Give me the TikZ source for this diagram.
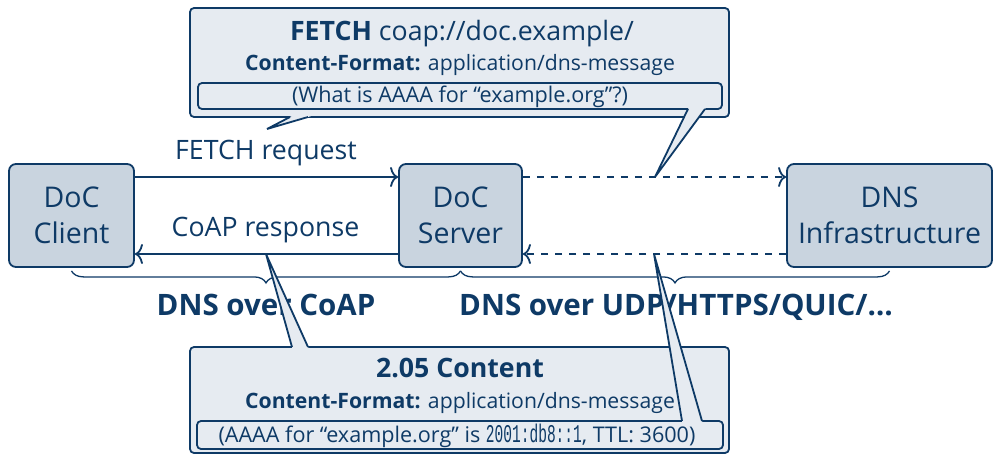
\documentclass[tikz,border=0pt]{standalone}
\usepackage{fontspec}
\setmainfont{Open Sans}
\newfontfamily\addrmono[FakeStretch=0.57]{Liberation Mono}
\usetikzlibrary{arrows.meta,decorations.pathreplacing,calc}
\definecolor{navy}{HTML}{0E3A66}
\definecolor{boxfill}{HTML}{C9D4DF}
\definecolor{notefill}{HTML}{E6EBF1}
\tikzset{
  entity/.style={draw=navy, fill=boxfill, line width=1.8pt, rounded corners=7pt,
    text=navy, align=center, inner sep=0pt, font=\fontsize{28.5}{36}\selectfont},
  flow/.style={draw=navy, line width=1.8pt,
    -{Computer Modern Rightarrow[length=8pt,width=20pt]}},
  dnsflow/.style={flow, dash pattern=on 7pt off 7pt},
  flowlabel/.style={text=navy, inner sep=0pt, anchor=base, font=\fontsize{26.7}{30}\selectfont},
  span/.style={draw=navy, line width=1.3pt, decorate,
    decoration={brace, mirror, amplitude=12pt}},
  spanlabel/.style={text=navy, inner sep=0pt, anchor=base,
    font=\fontsize{29.5}{34}\selectfont\bfseries},
  note/.style={draw=navy, fill=notefill, line width=1.8pt, rounded corners=4pt,
    inner sep=0pt},
  notetitle/.style={text=navy, inner sep=0pt, anchor=base, font=\fontsize{26.7}{30}\selectfont},
  notetext/.style={text=navy, inner sep=0pt, anchor=base, font=\fontsize{21.6}{26}\selectfont},
  formatline/.style={notetext, font=\fontsize{21.2}{26}\selectfont},
  tailedge/.style={draw=navy, line width=1.8pt, line join=miter},
}
% a speech-bubble pointer: filled wedge from two base points to a tip
\newcommand{\pointer}[3]{%
  \fill[notefill] (#3) -- ($(#1)!-3pt!(#3)$) -- ($(#2)!-3pt!(#3)$) -- cycle;
  \draw[tailedge] (#1) -- (#3) -- (#2);}

\begin{document}
\begin{tikzpicture}[x=1pt, y=-1pt]
\fill[white] (0,0) rectangle (993,455);
\useasboundingbox (0,0) rectangle (993,455);

% protocol endpoints
\node[entity, minimum width=125pt, minimum height=103pt] (client) at (71.5,215.5) {DoC\\Client};
\node[entity, minimum width=123pt, minimum height=103pt] (server) at (460.5,215.5) {DoC\\Server};
\node[entity, minimum width=205pt, minimum height=103pt] (dns) at (889.5,215.5) {DNS\\Infrastructure};

% CoAP exchange
\draw[flow] ([yshift=38.5pt]client.east) -- ([yshift=38.5pt]server.west);
\draw[flow] ([yshift=-38.5pt]server.west) -- ([yshift=-38.5pt]client.east);
\node[flowlabel] (req) at (266,159) {FETCH request};
\node[flowlabel] (resp) at (265.5,236) {CoAP response};

% upstream DNS exchange
\draw[dnsflow] ([yshift=38.5pt]server.east) -- ([yshift=38.5pt]dns.west);
\draw[dnsflow] ([yshift=-38.5pt]dns.west) -- ([yshift=-38.5pt]server.east);

% transport segments
\draw[span] ([yshift=-3pt]client.south) -- ([yshift=-3pt]server.south);
\draw[span] ([yshift=-3pt]server.south) -- ([yshift=-3pt]dns.south);
\node[spanlabel] (coapspan) at (266,315) {DNS over CoAP};
\node[spanlabel] (udpspan) at (676,315) {DNS over UDP/HTTPS/QUIC/…};

% request message
\node[note, minimum width=539pt, minimum height=109pt] (fetchnote) at (459.5,62.5) {};
\node[notetitle] (fetchhead) at (462,40) {\textbf{FETCH} coap://doc.example/};
\node[formatline] (fetchfmt) at (460,70) {\textbf{Content-Format:} application/dns-message};
\node[note, minimum width=524pt, minimum height=26pt] (query) at (460,96) {};
\node[notetext] (querytext) at (460,102) {(What is AAAA for “example.org”?)};
\coordinate (rqA) at (290,117);
\coordinate (rqB) at (308,117);
\coordinate (rqTip) at (267,129);
\pointer{rqA}{rqB}{rqTip}
\coordinate (qA) at (688,109);
\coordinate (qB) at (705,109);
\coordinate (qTip) at (655,177);
\pointer{qA}{qB}{qTip}

% response message
\node[note, minimum width=539pt, minimum height=106pt] (contentnote) at (459.5,400) {};
\node[notetitle] (contenthead) at (460,377) {\textbf{2.05 Content}};
\node[formatline] (contentfmt) at (460,408) {\textbf{Content-Format:} application/dns-message};
\node[note, minimum width=526pt, minimum height=28pt] (answer) at (460,435) {};
\node[notetext] (answertext) at (457,442) {(AAAA for “example.org” is {\addrmono\fontsize{25.5}{26}\selectfont 2001:db8::1}, TTL: 3600)};
\coordinate (rsA) at (292,347);
\coordinate (rsB) at (308,347);
\coordinate (rsTip) at (266,254);
\pointer{rsA}{rsB}{rsTip}
\coordinate (aA) at (682,421);
\coordinate (aB) at (702,421);
\coordinate (aTip) at (654,254);
\pointer{aA}{aB}{aTip}
\end{tikzpicture}
\end{document}
